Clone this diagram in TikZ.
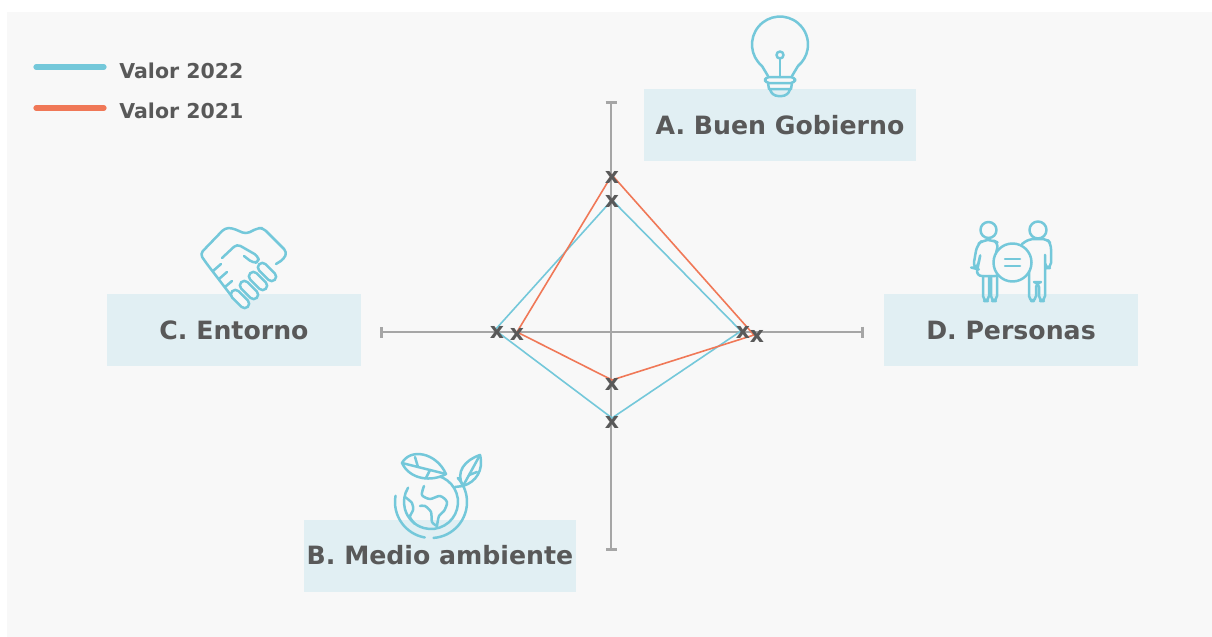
\documentclass[tikz,border=0pt]{standalone}
\usepackage{fontspec}
\setmainfont{DejaVu Sans}
\usetikzlibrary{arrows.meta}
\definecolor{bggray}{HTML}{F8F8F8}
\definecolor{boxblue}{HTML}{E1EFF3}
\definecolor{txtgray}{HTML}{595959}
\definecolor{axisgray}{HTML}{A6A6A6}
\definecolor{val22}{HTML}{74C8DA}
\definecolor{val21}{HTML}{F07857}
\tikzset{
    every node/.style={inner sep=0pt, text=txtgray, font=\bfseries}
}
\tikzset{
    area/.style={fill=boxblue, minimum height=36pt,
        font=\fontsize{12.6}{15}\selectfont\bfseries},
    axis/.style={draw=axisgray, line width=1.3pt,
        {Bar[width=5.5pt]}-{Bar[width=5.5pt]}},
    icon/.style={draw=val22, line width=1.25pt, line cap=round,
        line join=round},
    valmark/.style={font=\fontsize{11}{12}\selectfont\bfseries}
}

\begin{document}
\begin{tikzpicture}[x=0.5pt,y=-0.5pt]
	\useasboundingbox (0,0) rectangle (1212,637);
	\fill[bggray] (7,12) rectangle (1212,637);

	\node (A) [area, minimum width=136pt] at (780,125) {A. Buen Gobierno};
	\node (B) [area, minimum width=136pt] at (440,555.5) {B. Medio ambiente};
	\node (C) [area, minimum width=127pt] at (234,330) {C. Entorno};
	\node (D) [area, minimum width=127pt] at (1011,330) {D. Personas};

	\coordinate (top) at (611,101); \coordinate (bot) at (611,551);
	\coordinate (lft) at (380,332); \coordinate (rgt) at (864,332);
	\draw[axis] (top) -- (bot);
	\draw[axis] (lft) -- (rgt);

	\coordinate (b1) at (612,200); \coordinate (b2) at (741,331);
	\coordinate (b3) at (612,418); \coordinate (b4) at (495,330);
	\coordinate (r1) at (612,175); \coordinate (r2) at (754,335);
	\coordinate (r3) at (612,380); \coordinate (r4) at (517,332);
	\draw[val22, line width=0.8pt] (b1) -- (b2) -- (b3) -- (b4) -- cycle;
	\draw[val21, line width=0.8pt] (r1) -- (r2) -- (r3) -- (r4) -- cycle;

	\node (xb1) [valmark] at (612,201) {x};
	\node (xb2) [valmark] at (743,332) {x};
	\node (xb3) [valmark] at (612,422) {x};
	\node (xb4) [valmark] at (497,332) {x};
	\node (xr1) [valmark] at (612,177) {x};
	\node (xr2) [valmark] at (757,336) {x};
	\node (xr3) [valmark] at (612,384) {x};
	\node (xr4) [valmark] at (517,334) {x};

	% bulb
	\draw[icon] (768,76) -- (762,66) arc[start angle=130, end angle=410, radius=28] -- (792,76);
	\draw[icon, rounded corners=2] (765,77) rectangle (795,83);
	\draw[icon] (768,83) -- (769,89) -- (791,89) -- (792,83);
	\draw[icon, rounded corners=3] (770,89) -- (772,96) -- (788,96) -- (790,89);
	\draw[icon] (780,55) circle[radius=3.5];
	\draw[icon] (780,58.5) -- (780,77);

	% handshake
	\draw[icon, rounded corners=2] (207,264) -- (200,254) -- (225,228) -- (232,228) -- (246,234)
		-- (258,228) -- (263,228) -- (287,252) -- (284,259) -- (276,264);
	\draw[icon, rounded corners=2] (222,258) -- (237,244) -- (258,256) -- (259,262) -- (253,263) -- (244,256);
	\draw[icon] (207,264) -- (233,298);
	\draw[icon] (213,271) -- (221,264);
	\draw[icon] (219,279) -- (227,272);
	\draw[icon] (225,287) -- (232,281);
	\foreach \i in {0,...,3}
		\filldraw[icon, fill=bggray, rounded corners=2.2pt, rotate around={-45:(240+9*\i,299-9*\i)}]
			(229+9*\i,294.5-9*\i) rectangle (251+9*\i,303.5-9*\i);

	% people
	\draw[icon] (988.5,230) circle[radius=8];
	\draw[icon] (1038,230) circle[radius=8.5];
	\draw[icon, rounded corners=3] (976,276) -- (1001,276) -- (995,255) -- (999,243) -- (992,240)
		-- (983,240) -- (977,245) -- (973,268) -- (977,269) -- (981,252) -- cycle;
	\draw[icon, rounded corners=2.5pt] (983,276) -- (983,301) -- (989,301) -- (989,276);
	\draw[icon, rounded corners=2.5pt] (991,276) -- (991,301) -- (997,301) -- (997,276);
	\draw[icon, rounded corners=2.5] (1022,244) -- (1029,239) -- (1047,239) -- (1051,244) -- (1051,268)
		-- (1045,268) -- (1045,252) -- (1045,301) -- (1039,301) -- (1039,282) -- (1036,282)
		-- (1036,301) -- (1029,301) -- (1029,260);
	\filldraw[icon, fill=bggray] (1012.5,262.5) circle[radius=19];
	\draw[icon] (1005,259) -- (1020,259);
	\draw[icon] (1005,266) -- (1020,266);

	% globe
	\draw[icon] (431,502) ++(190:36) arc[start angle=190, end angle=100, radius=36];
	\draw[icon] (431,502) ++(86:36) arc[start angle=86, end angle=-42, radius=36];
	\draw[icon] (431,502) ++(-75:27) arc[start angle=-75, end angle=212, radius=27];
	\draw[icon] plot[smooth] coordinates {(424,486) (422,495) (430,499) (440,496) (447,502) (444,511) (439,516) (437,526)};
	\draw[icon] plot[smooth] coordinates {(437,526) (432,522) (431,512) (425,506) (420,506)};
	\draw[icon] plot[smooth] coordinates {(405,497) (412,503) (413,510) (410,517) (415,524)};
	\filldraw[icon, fill=bggray] (402,463) .. controls (410,448) and (436,452) .. (446,474)
		.. controls (432,482) and (410,480) .. cycle;
	\draw[icon] (402,463) -- (446,474);
	\draw[icon] (418,467) -- (415,457);
	\draw[icon] (430,470) -- (426,478);
	\draw[icon] (463,486) .. controls (455,472) and (465,460) .. (480,455)
		.. controls (484,470) and (476,482) .. cycle;
	\draw[icon] (463,486) -- (480,455);
	\draw[icon] (469,475) -- (477,472);
	\draw[icon] (455,487) -- (463,486);

	% legend
	\coordinate (l1a) at (36,67); \coordinate (l1b) at (104,67);
	\coordinate (l2a) at (36,108); \coordinate (l2b) at (104,108);
	\draw[val22, line width=2.6pt, line cap=round] (l1a) -- (l1b);
	\draw[val21, line width=2.6pt, line cap=round] (l2a) -- (l2b);
	\node (v22) [anchor=base west, font=\fontsize{10.25}{12}\selectfont\bfseries] at (119,78) {Valor 2022};
	\node (v21) [anchor=base west, font=\fontsize{10.25}{12}\selectfont\bfseries] at (119,119) {Valor 2021};
\end{tikzpicture}
\end{document}
